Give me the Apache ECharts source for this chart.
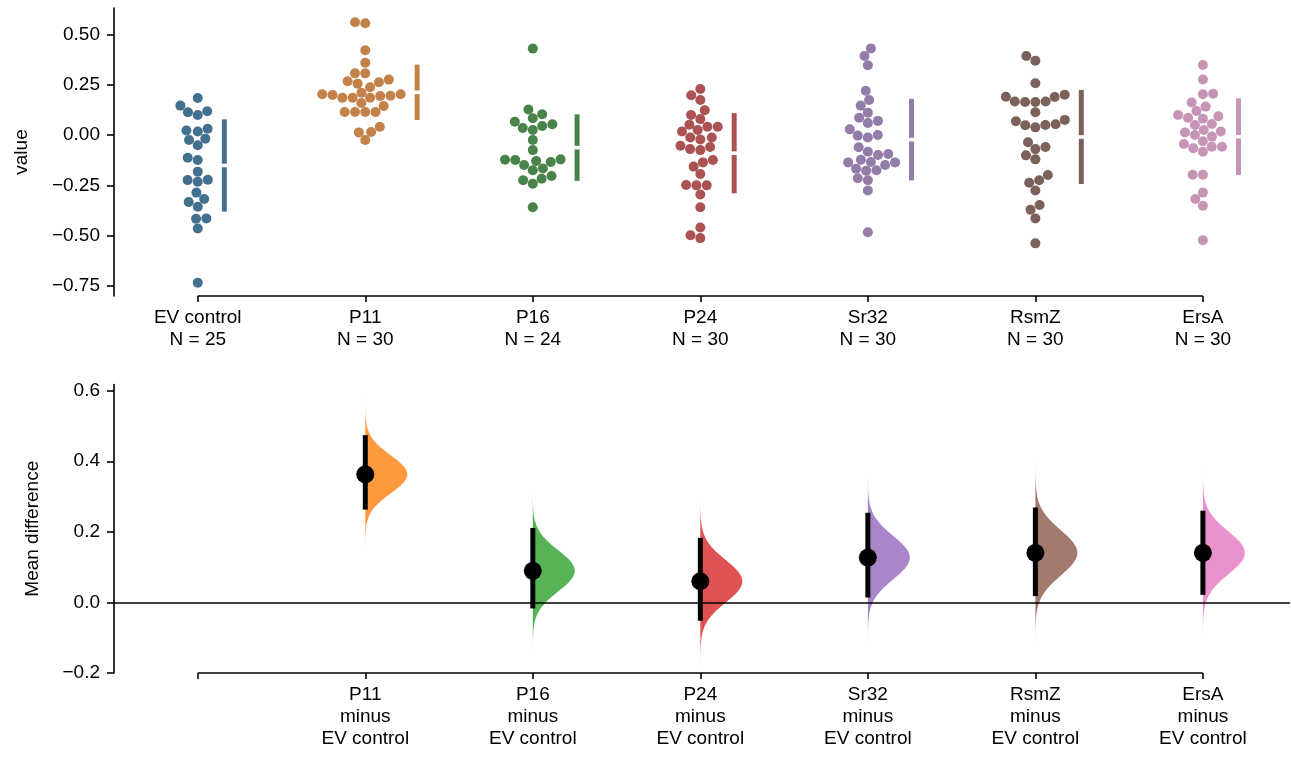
<!DOCTYPE html>
<html><head><meta charset="utf-8">
<script src="https://cdn.jsdelivr.net/npm/echarts@6/dist/echarts.min.js"></script>
<style>html,body{margin:0;padding:0;background:#fff}#c{width:1291px;height:757px}</style>
</head><body><div id="c"></div>
<script>
// ---------------- data ----------------
const groups = ['EV control', 'P11', 'P16', 'P24', 'Sr32', 'RsmZ', 'ErsA'];

const evControl = [0.184, 0.146, 0.113, 0.099, 0.118, 0.022, 0.017, 0.031, -0.025, -0.018, -0.051,
  -0.113, -0.124, -0.182, -0.224, -0.232, -0.222, -0.286, -0.318, -0.333, -0.356, -0.416, -0.414, -0.464, -0.733];
const p11 = [0.560, 0.555, 0.421, 0.359, 0.306, 0.306, 0.267, 0.255, 0.262, 0.275, 0.237,
  0.202, 0.202, 0.185, 0.185, 0.210, 0.185, 0.194, 0.195, 0.199, 0.159, 0.144,
  0.114, 0.114, 0.114, 0.114, 0.041, 0.015, 0.013, -0.025];
const p16 = [0.429, 0.127, 0.103, 0.083, 0.066, 0.053, 0.035, 0.045, 0.025, -0.025, -0.075,
  -0.123, -0.134, -0.124, -0.129, -0.121, -0.149, -0.166, -0.175, -0.225, -0.242, -0.217, -0.204, -0.359];
const p24 = [0.228, 0.197, 0.174, 0.123, 0.099, 0.079, 0.051, 0.041, 0.041, 0.025, 0.017,
  -0.012, -0.012, -0.022, -0.053, -0.070, -0.060, -0.075, -0.124, -0.136, -0.157, -0.194,
  -0.250, -0.250, -0.248, -0.295, -0.359, -0.459, -0.498, -0.512];
const sr32 = [0.430, 0.392, 0.346, 0.220, 0.174, 0.146, 0.111, 0.086, 0.070, 0.060, 0.028,
  -0.003, 0.000, -0.012, -0.061, -0.083, -0.094, -0.099, -0.123, -0.136, -0.136, -0.134,
  -0.149, -0.167, -0.177, -0.175, -0.215, -0.225, -0.276, -0.483];
const rsmZ = [0.392, 0.369, 0.257, 0.190, 0.189, 0.164, 0.164, 0.166, 0.166, 0.200, 0.113,
  0.068, 0.048, 0.038, 0.050, 0.053, 0.075, -0.036, -0.070, -0.060, -0.101, -0.121,
  -0.199, -0.225, -0.237, -0.276, -0.348, -0.371, -0.414, -0.538];
const ersA = [0.348, 0.276, 0.205, 0.202, 0.162, 0.141, 0.119, 0.099, 0.093, 0.086, 0.081,
  0.055, 0.050, 0.025, 0.017, 0.012, 0.000, -0.008, -0.031, -0.045, -0.058, -0.058,
  -0.066, -0.083, -0.197, -0.197, -0.286, -0.318, -0.351, -0.522];
const groupValues = [evControl, p11, p16, p24, sr32, rsmZ, ersA];

// mean differences vs EV control with 95% CI
const diffNames = ['P11', 'P16', 'P24', 'Sr32', 'RsmZ', 'ErsA'];
const meanDiff = [0.363, 0.0895, 0.060, 0.127, 0.1405, 0.1405];
const ciLow    = [0.263, -0.017, -0.052, 0.014, 0.018, 0.0215];
const ciHigh   = [0.474, 0.211, 0.183, 0.254, 0.269, 0.260];

const topTicks = [-0.75, -0.5, -0.25, 0, 0.25, 0.5];
const bottomTicks = [-0.2, 0, 0.2, 0.4, 0.6];

// ---------------- styles ----------------
const swarmColors = ['#44708F', '#C3824A', '#498349', '#AB5252', '#937CA8', '#7C615B', '#C694B5'];
const violinColors = ['#ff7f0e', '#2ca02c', '#d62728', '#9467bd', '#8c564b', '#e377c2'];
const FONT = '"Liberation Sans", Arial, sans-serif';
const FS = 19;
const X_MIN = -0.5, X_MAX = 6.52;
const TOP_MIN = -0.7994, TOP_MAX = 0.6306;
const BOT_MIN = -0.2, BOT_MAX = 0.6175;
const catIdx = groups.map((g, i) => i);

const topLabels = groups.map((g, i) => g + '\nN = ' + groupValues[i].length);
const botLabels = [''].concat(diffNames.map(n => n + '\nminus\n' + groups[0]));

function fmt(v, d) {
  const s = Math.abs(v).toFixed(d);
  return v < -1e-9 ? '\u2212' + s : s;
}

function axisX(gi, labels) {
  return {
    gridIndex: gi, type: 'value', min: X_MIN, max: X_MAX,
    axisLine: { show: false, onZero: false }, splitLine: { show: false },
    axisTick: { show: true, customValues: catIdx, length: 6, lineStyle: { color: '#000', width: 1.6 } },
    axisLabel: { customValues: catIdx, formatter: v => labels[Math.round(v)], color: '#000',
      fontSize: FS, fontFamily: FONT, lineHeight: 22, margin: 11 }
  };
}
function axisY(gi, min, max, ticks, dec, name, gap) {
  return {
    gridIndex: gi, type: 'value', min: min, max: max,
    name: name, nameLocation: 'middle', nameGap: gap, nameRotate: 90,
    nameTextStyle: { color: '#000', fontSize: FS, fontFamily: FONT },
    axisLine: { show: true, onZero: false, lineStyle: { color: '#000', width: 1.6 } },
    splitLine: { show: false },
    axisTick: { show: true, customValues: ticks, length: 7, lineStyle: { color: '#000', width: 1.6 } },
    axisLabel: { customValues: ticks, formatter: v => fmt(v, dec), color: '#000',
      fontSize: FS, fontFamily: FONT, margin: 14 }
  };
}

function mean(a) { return a.reduce((s, v) => s + v, 0) / a.length; }
function sd(a) { const m = mean(a); return Math.sqrt(a.reduce((s, v) => s + (v - m) * (v - m), 0) / (a.length - 1)); }

function beeswarm(vals, yToPx, d) {
  const idx = vals.map((v, i) => i).sort((a, b) => vals[a] - vals[b]);
  const placed = [];
  const offs = new Array(vals.length).fill(0);
  for (const i of idx) {
    const y = yToPx(vals[i]);
    const nb = placed.filter(p => Math.abs(p.y - y) < d);
    const cands = [0];
    let leftFirst = true;
    for (const p of nb) {
      const dy = y - p.y;
      const dx = Math.sqrt(Math.max(d * d - dy * dy, 0)) * 1.05;
      if (leftFirst) cands.push(p.x - dx, p.x + dx); else cands.push(p.x + dx, p.x - dx);
      leftFirst = !leftFirst;
    }
    const sorted = cands.map((x, k) => ({ x, k })).sort((a, b) => (Math.abs(a.x) - Math.abs(b.x)) || (a.k - b.k));
    let chosen = 0;
    for (const c of sorted) {
      if (nb.every(p => (p.x - c.x) ** 2 + (p.y - y) ** 2 >= d * d - 1e-6)) { chosen = c.x; break; }
    }
    placed.push({ x: chosen, y });
    offs[i] = chosen;
  }
  return offs;
}

function buildOption(swarm) {
  const series = [];
  // swarm points
  groups.forEach((g, i) => {
    series.push({
      type: 'scatter', xAxisIndex: 0, yAxisIndex: 0, name: g,
      symbolSize: 10, itemStyle: { color: swarmColors[i], opacity: 1 },
      data: swarm ? swarm[i].pts : [], z: 3
    });
  });
  // gapped mean +/- sd lines
  series.push({
    type: 'custom', xAxisIndex: 0, yAxisIndex: 0, z: 3,
    data: groups.map((g, i) => [i, mean(groupValues[i]), sd(groupValues[i]), swarm ? swarm[i].barOff : 30]),
    renderItem: function (params, api) {
      const i = api.value(0), m = api.value(1), s = api.value(2), off = api.value(3);
      const c = api.coord([i, m]);
      const t = api.coord([i, m + s]);
      const b = api.coord([i, m - s]);
      const x = c[0] + off, gap = 1.8;
      const st = { stroke: swarmColors[params.dataIndex], lineWidth: 5, lineCap: 'butt' };
      return { type: 'group', children: [
        { type: 'line', shape: { x1: x, y1: t[1], x2: x, y2: c[1] - gap }, style: st },
        { type: 'line', shape: { x1: x, y1: c[1] + gap, x2: x, y2: b[1] }, style: st }
      ] };
    }
  });
  // top x axis line
  series.push({
    type: 'line', xAxisIndex: 0, yAxisIndex: 0, clip: false, symbol: 'none', silent: true,
    data: [[0, TOP_MIN], [groups.length - 1, TOP_MIN]],
    lineStyle: { color: '#000', width: 1.6 }
  });
  // violins
  series.push({
    type: 'custom', xAxisIndex: 1, yAxisIndex: 1, z: 2,
    data: diffNames.map((n, k) => [k + 1, meanDiff[k], ciLow[k], ciHigh[k]]),
    renderItem: function (params, api) {
      const x = api.value(0), m = api.value(1), lo = api.value(2), hi = api.value(3);
      const s = (hi - lo) / 3.92;
      const W = 42;
      const pts = [];
      const N = 80;
      for (let j = 0; j <= N; j++) {
        const z = -4 + 8 * j / N;
        const p = api.coord([x, m + z * s]);
        pts.push([p[0] + W * Math.exp(-z * z / 2), p[1]]);
      }
      const pTop = api.coord([x, m + 4 * s]);
      const pBot = api.coord([x, m - 4 * s]);
      pts.push([pTop[0], pTop[1]]);
      pts.unshift([pBot[0], pBot[1]]);
      return { type: 'polygon', shape: { points: pts },
        style: { fill: violinColors[params.dataIndex], opacity: 0.8 } };
    }
  });
  // CI lines
  series.push({
    type: 'custom', xAxisIndex: 1, yAxisIndex: 1, z: 4,
    data: diffNames.map((n, k) => [k + 1, ciLow[k], ciHigh[k]]),
    renderItem: function (params, api) {
      const a = api.coord([api.value(0), api.value(1)]);
      const b = api.coord([api.value(0), api.value(2)]);
      return { type: 'line', shape: { x1: a[0], y1: a[1], x2: b[0], y2: b[1] },
        style: { stroke: '#000', lineWidth: 5 } };
    }
  });
  // mean difference dots + zero line
  series.push({
    type: 'scatter', xAxisIndex: 1, yAxisIndex: 1, z: 5,
    symbolSize: 18, itemStyle: { color: '#000', opacity: 1 },
    data: diffNames.map((n, k) => [k + 1, meanDiff[k]]),
    markLine: { silent: true, symbol: 'none', label: { show: false },
      lineStyle: { color: '#000', width: 1.5, type: 'solid' },
      data: [{ yAxis: 0 }] }
  });
  // bottom x axis line
  series.push({
    type: 'line', xAxisIndex: 1, yAxisIndex: 1, clip: false, symbol: 'none', silent: true,
    data: [[0, BOT_MIN], [groups.length - 1, BOT_MIN]],
    lineStyle: { color: '#000', width: 1.6 }
  });

  return {
    animation: false,
    backgroundColor: '#fff',
    grid: [
      { left: 114, right: 1, top: 8, height: 288 },
      { left: 114, right: 1, top: 384.5, height: 288.5 }
    ],
    xAxis: [axisX(0, topLabels), axisX(1, botLabels)],
    yAxis: [
      axisY(0, TOP_MIN, TOP_MAX, topTicks, 2, 'value', 83),
      axisY(1, BOT_MIN, BOT_MAX, bottomTicks, 1, 'Mean difference', 72)
    ],
    series: series
  };
}

const chart = echarts.init(document.getElementById('c'), null, { renderer: 'canvas' });
chart.setOption(buildOption(null));
const px0 = chart.convertToPixel({ xAxisIndex: 0 }, 0);
const pxPerUnit = chart.convertToPixel({ xAxisIndex: 0 }, 1) - px0;
const yToPx = v => chart.convertToPixel({ yAxisIndex: 0 }, v);
const swarm = groupValues.map((vals, i) => {
  const offs = beeswarm(vals, yToPx, 9.8);
  const maxOff = Math.max.apply(null, offs);
  return {
    pts: vals.map((v, k) => [i + offs[k] / pxPerUnit, v]),
    barOff: maxOff + 16.5
  };
});
chart.setOption(buildOption(swarm), true);
</script>
</body></html>
